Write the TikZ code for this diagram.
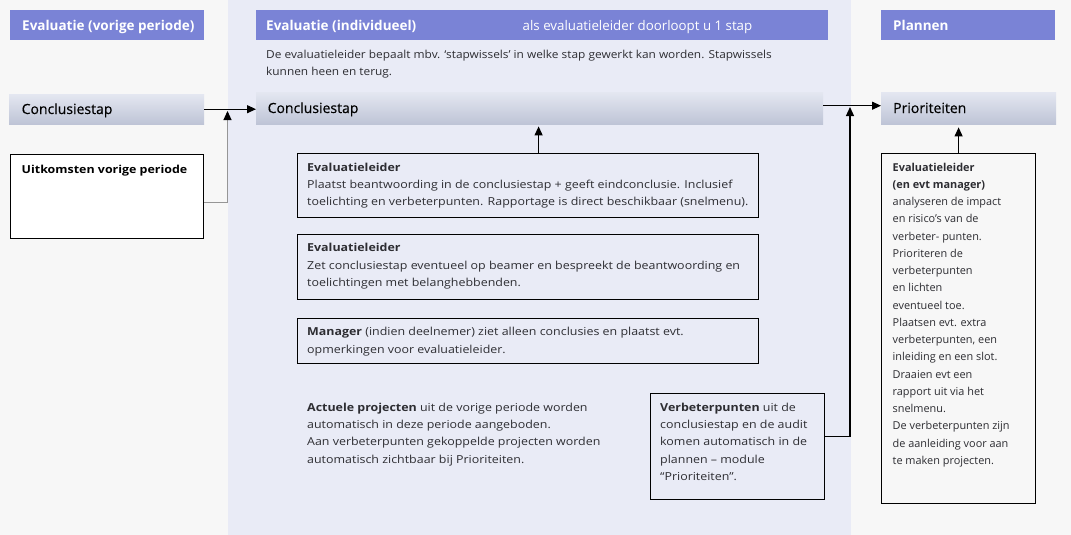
\documentclass[tikz,border=0pt]{standalone}
\usepackage{graphicx}
\usepackage{fontspec}
\setmainfont{Open Sans}
\newfontfamily\semib[FakeBold=0.5]{Open Sans}
\newfontfamily\midfont[FakeStretch=1.13]{Open Sans}
\newfontfamily\descfont[FakeStretch=1.08]{Open Sans}
\usetikzlibrary{arrows.meta}
\definecolor{bgc}{RGB}{247,247,247}
\definecolor{midc}{RGB}{233,235,246}
\definecolor{hdr}{RGB}{122,131,214}
\definecolor{stapT}{RGB}{228,231,241}
\definecolor{stapB}{RGB}{190,196,214}
\definecolor{txt}{RGB}{45,45,50}
\definecolor{lgr}{RGB}{150,150,150}
\newcommand{\fl}{\rule{0pt}{10pt}}
\newcommand{\bodyfont}{\fontsize{10.9}{17.25}\selectfont}
\newcommand{\midbody}{\midfont\fontsize{11}{17.3}\selectfont}
\newcommand{\descbody}{\descfont\fontsize{11}{17.3}\selectfont}
\newcommand{\hdrfont}{\fontsize{13.5}{16}\selectfont\bfseries}
\newcommand{\stapfont}{\semib\fontsize{14}{17}\selectfont}
\tikzset{
  hdrbox/.style={fill=hdr, draw=none, inner sep=0pt, anchor=north west},
  stapbox/.style={top color=stapT, bottom color=stapB, draw=none, inner sep=0pt, anchor=north west},
  framebox/.style={draw=black, line width=1.2pt, inner sep=0pt, anchor=north west},
  hdrtxt/.style={text=white, font=\hdrfont, inner sep=0pt, anchor=base west},
  staptxt/.style={text=black, font=\stapfont, inner sep=0pt, anchor=base west},
  body/.style={text=txt, font=\bodyfont, inner sep=0pt, align=left, anchor=north west},
  midtxt/.style={body, font=\midbody},
  arr/.style={line width=1.1pt, -{Triangle[length=9pt,width=8pt]}},
}
\begin{document}
\begin{tikzpicture}[x=1pt,y=-1pt]
\useasboundingbox (0,0) rectangle (1071,535);
\fill[bgc] (0,0) rectangle (1071,535);
\fill[midc] (228,0) rectangle (851,535);

% headers
\node[hdrbox, minimum width=194pt, minimum height=30pt] (h1) at (10,10) {};
\node[hdrtxt] (h1t) at (22,30.5) {Evaluatie (vorige periode)};
\node[hdrbox, minimum width=572pt, minimum height=30pt] (h2) at (256,10) {};
\node[hdrtxt] (h2t) at (266,30.5) {Evaluatie (individueel)};
\node[text=white, inner sep=0pt, anchor=base west, font=\fontsize{13.3}{16}\selectfont] (h2s) at (522.5,30.5) {als evaluatieleider doorloopt u 1 stap};
\node[hdrbox, minimum width=174pt, minimum height=30pt] (h3) at (881,10) {};
\node[hdrtxt] (h3t) at (893,30.5) {Plannen};

% description
\node[body, font=\descbody] (desc) at (266,48) {\fl De evaluatieleider bepaalt mbv. ‘stapwissels’ in welke stap gewerkt kan worden. Stapwissels\\kunnen heen en terug.};

% stap boxes
\node[stapbox, minimum width=195pt, minimum height=30pt] (cl) at (9,94) {};
\node[staptxt] (clt) at (21.5,114) {Conclusiestap};
\node[stapbox, minimum width=567pt, minimum height=32pt] (cm) at (256,92) {};
\node[staptxt] (cmt) at (267.5,113) {Conclusiestap};
\node[stapbox, minimum width=175pt, minimum height=32pt] (prio) at (881,92) {};
\node[staptxt] (priot) at (893,113) {Prioriteiten};

% left box
\node[framebox, fill=white, minimum width=193pt, minimum height=84pt] (uit) at (10,154) {};
\node[midtxt, font=\midbody\bfseries, text=black] (uitt) at (21.5,163) {\fl Uitkomsten vorige periode};

% middle boxes
\node[framebox, minimum width=461pt, minimum height=64pt] (b1) at (296.5,152.5) {};
\node[midtxt] (b1t) at (307,161) {\fl\textbf{Evaluatieleider}\\Plaatst beantwoording in de conclusiestap + geeft eindconclusie. Inclusief\\toelichting en verbeterpunten. Rapportage is direct beschikbaar (snelmenu).};
\node[framebox, minimum width=461pt, minimum height=65pt] (b2) at (296.5,233.5) {};
\node[midtxt] (b2t) at (307,241.7) {\fl\textbf{Evaluatieleider}\\Zet conclusiestap eventueel op beamer en bespreekt de beantwoording en\\toelichtingen met belanghebbenden.};
\node[framebox, minimum width=461pt, minimum height=45pt] (b3) at (296.5,317.5) {};
\node[midtxt] (b3t) at (307,325.7) {\fl\textbf{Manager} (indien deelnemer) ziet alleen conclusies en plaatst evt.\\opmerkingen voor evaluatieleider.};

\node[midtxt] (act) at (307,401) {\fl\textbf{Actuele projecten} uit de vorige periode worden\\automatisch in deze periode aangeboden.\\Aan verbeterpunten gekoppelde projecten worden\\automatisch zichtbaar bij Prioriteiten.};

\node[framebox, minimum width=174pt, minimum height=106pt] (vp) at (650,392.5) {};
\node[midtxt] (vpt) at (660,401) {\fl\textbf{Verbeterpunten} uit de\\conclusiestap en de audit\\komen automatisch in de\\plannen – module\\“Prioriteiten”.};

% right box
\node[framebox, minimum width=154pt, minimum height=350pt] (ev) at (881,152.5) {};
\node[body] (evt) at (892.5,161) {\fl\textbf{Evaluatieleider}\\\textbf{(en evt manager)}\\analyseren de impact\\en risico's van de\\verbeter- punten.\\Prioriteren de\\verbeterpunten\\en lichten\\eventueel toe.\\Plaatsen evt. extra\\verbeterpunten, een\\inleiding en een slot.\\Draaien evt een\\rapport uit via het\\snelmenu.\\De verbeterpunten zijn\\de aanleiding voor aan\\te maken projecten.};

% connectors
\coordinate (j1) at (227.5,111);
\coordinate (j2) at (850,107);
\draw[arr] (cl.east) -- (cl.east -| cm.west);
\draw[arr, draw=lgr, -{Triangle[length=9pt,width=8pt,color=black]}] ([yshift=-6pt]uit.east) -| (j1);
\draw[arr, shorten >=2pt] ([xshift=11pt]b1.north) -- ([xshift=11pt]b1.north |- cm.south);
\draw[arr] ([yshift=2.5pt]cm.east) -- ([yshift=2.5pt]cm.east -| prio.west);
\draw[arr] ([yshift=10pt]vp.east) -| (j2);
\draw[arr, shorten >=3pt] (ev.north) -- (ev.north |- prio.south);
\end{tikzpicture}
\end{document}
